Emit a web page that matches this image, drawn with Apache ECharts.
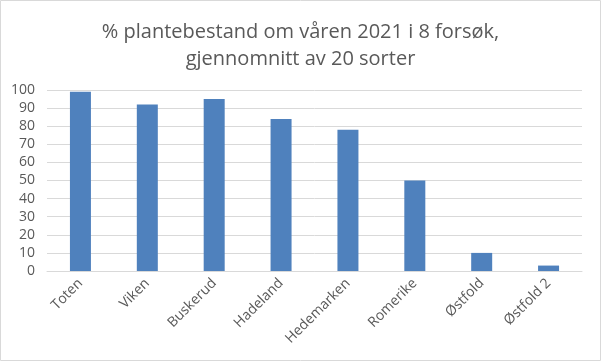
<!DOCTYPE html>
<html><head><meta charset="utf-8">
<script src="https://cdn.jsdelivr.net/npm/echarts@6/dist/echarts.min.js"></script>
<style>html,body{margin:0;padding:0;background:#fff}#c{width:601px;height:361px}</style>
</head><body><div id="c"></div>
<script>
const titleText = "% plantebestand om våren 2021 i 8 forsøk,\ngjennomnitt av 20 sorter";
const categories = ["Toten","Viken","Buskerud","Hadeland","Hedemarken","Romerike","Østfold","Østfold 2"];
const values = [99, 92, 95, 84, 78, 50, 10, 3];
const yMin = 0, yMax = 100, yStep = 10;

const chart = echarts.init(document.getElementById('c'), null, {renderer:'canvas'});
const txt = '#595959';
const font = '"Open Sans", "Noto Sans", sans-serif';
chart.setOption({
  animation:false,
  textStyle:{fontFamily:font},
  graphic:[{type:'rect', shape:{x:0.5,y:0.5,width:600,height:360}, style:{fill:'none', stroke:'#d9d9d9', lineWidth:1}, silent:true}],
  title:{text:titleText, left:'center', top:14, textStyle:{fontFamily:font, fontSize:20, fontWeight:'normal', color:txt, lineHeight:27}},
  grid:{left:47, right:19, top:90, bottom:90, containLabel:false},
  xAxis:{type:'category', data:categories,
    axisLine:{lineStyle:{color:'#d9d9d9'}}, axisTick:{show:false},
    axisLabel:{rotate:45, color:txt, fontSize:14, fontFamily:font, margin:10, interval:0}},
  yAxis:{type:'value', min:yMin, max:yMax, interval:yStep,
    axisLine:{show:false}, axisTick:{show:false},
    splitLine:{lineStyle:{color:'#d9d9d9'}},
    axisLabel:{color:txt, fontSize:14, fontFamily:font, margin:12}},
  series:[{type:'bar', data:values, barWidth:21, itemStyle:{color:'#4f81bd'}}]
});
</script></body></html>
